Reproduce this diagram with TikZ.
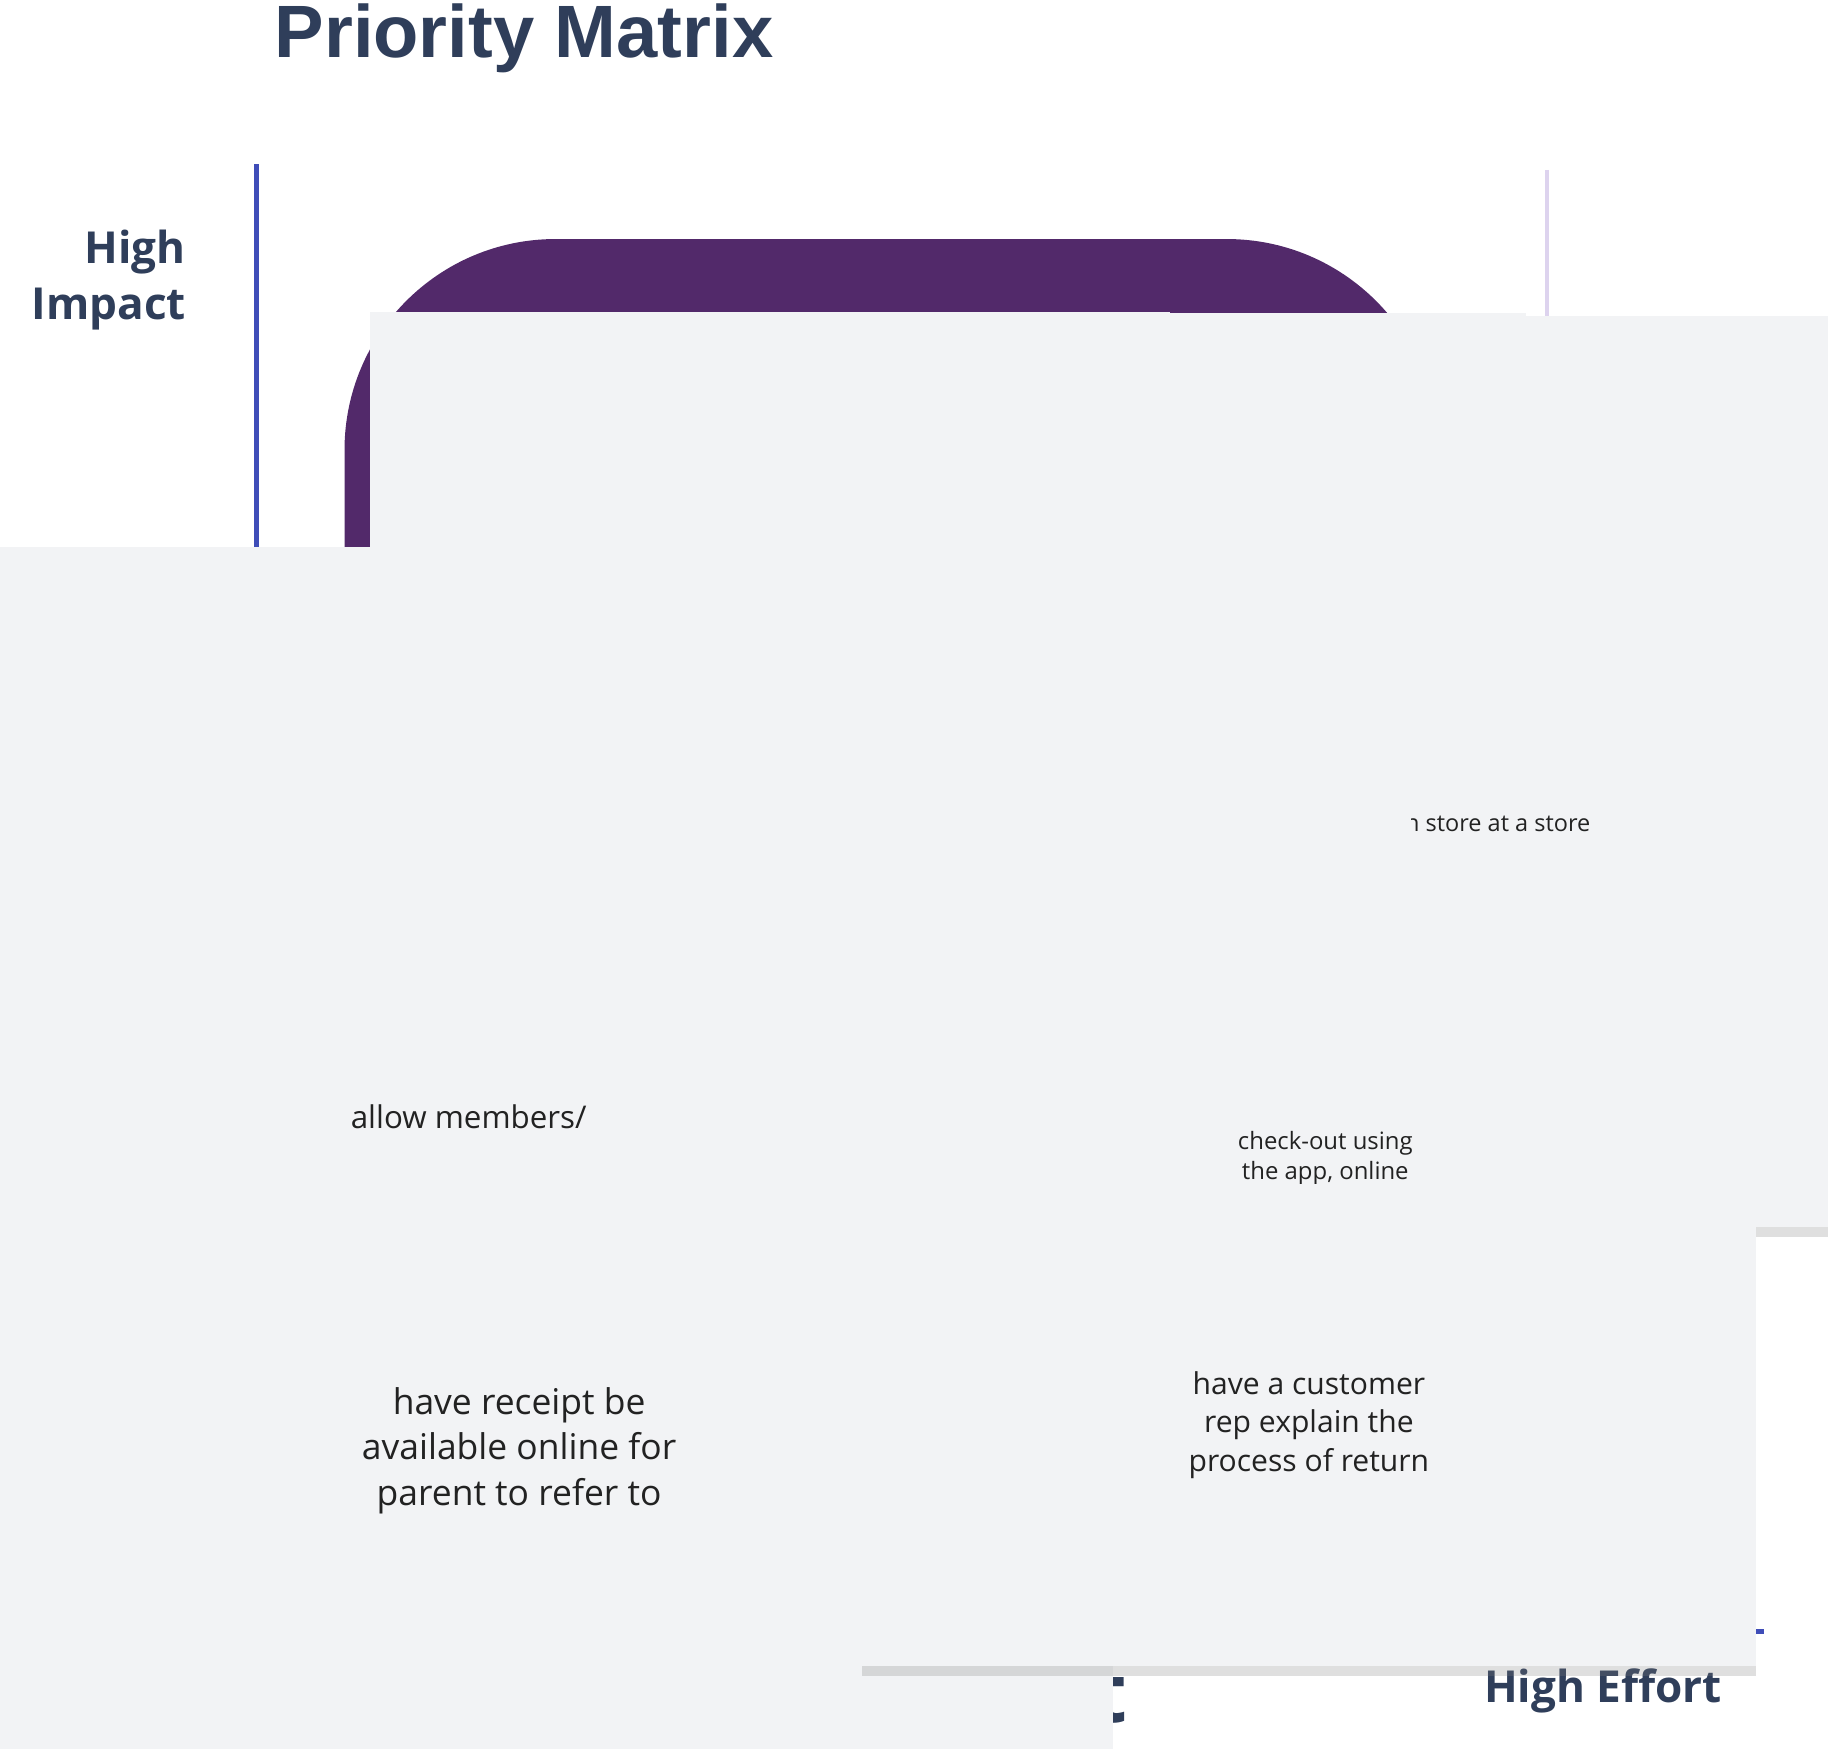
\documentclass[tikz,border=0pt]{standalone}
\usepackage{fontspec}
\setmainfont{Open Sans}
\newfontfamily\titlefont{Liberation Sans}
\usepackage{tikz}
\usetikzlibrary{positioning,shadows}
\definecolor{axisblue}{HTML}{3F4DB8}
\definecolor{gridlilac}{HTML}{DDD3EE}
\definecolor{prioplum}{HTML}{52296A}
\definecolor{labelnavy}{HTML}{2F3E5A}
\definecolor{notegray}{HTML}{F2F3F5}
\definecolor{notetext}{HTML}{222222}
\newcommand{\fsz}[2]{\fontsize{#1pt}{#2pt}\selectfont}

\tikzset{
  stickynote/.style={fill=notegray,align=center,text=notetext,inner sep=0pt,
    drop shadow={shadow xshift=0pt,shadow yshift=-2.5pt,opacity=.25}},
  axislabel/.style={text=labelnavy,font=\bfseries}
}

\begin{document}
\begin{tikzpicture}[x=0.01cm,y=-0.01cm]
  \useasboundingbox (0,0) rectangle (1560,1492);
  % quadrant lines
  \draw[gridlilac,line width=0.9pt] (1320,145) -- (1320,1392);
  \draw[gridlilac,line width=0.9pt] (235,1217) -- (1497,1217);
  % priority area
  \fill[prioplum,rounded corners=1.8cm] (294,204) rectangle (1227,1152);
  \node[anchor=west,text=white,font=\bfseries\fsz{14}{17}] (prio) at (374,328) {Priority 1};
  % axes
  \draw[axisblue,line width=1.2pt] (219,140) -- (219,1392) -- (1505,1392);
  \node[anchor=west,text=labelnavy,font=\titlefont\bfseries\fsz{18}{22}] (title) at (222,33) {Priority Matrix};
  \node[axislabel,anchor=east,align=right,font=\bfseries\fsz{10.7}{13.4}] (hi) at (171,239) {High\\Impact};
  \node[axislabel,anchor=east,align=right,font=\bfseries\fsz{10.7}{13.4}] (lo) at (175,1294) {Low\\Impact};
  \node[axislabel,rotate=90,font=\bfseries\fsz{19}{23}] (imp) at (135,700) {Impact};
  \node[axislabel,font=\bfseries\fsz{10.7}{13}] (le) at (350,1446) {Low Effort};
  \node[axislabel,font=\bfseries\fsz{20}{24}] (eff) at (862,1443) {Effort};
  \node[axislabel,font=\bfseries\fsz{10.7}{13}] (he) at (1368,1443) {High Effort};
  % sticky notes
  \node[stickynote,minimum width=194,minimum height=191,font=\fsz{6.8}{8.6}] (ar) at (657,602)
    {AR to scan\\product and\\see what\\discounts are\\available for it};
  \node[stickynote,minimum width=182,minimum height=176,font=\fsz{5.8}{7.4}] (qrshow) at (982,577)
    {have qr-code in\\store to show\\which discounts\\are applicable\\where};
  \node[stickynote,minimum width=177,minimum height=174,font=\fsz{8.1}{10.4}] (buy) at (1341,576)
    {Buy/\\reserve\\online-pay\\offline};
  \node[stickynote,minimum width=270,minimum height=144,font=\fsz{6.8}{8.6}] (gamify) at (386,720)
    {gamify feedback- post\\pictures on social\\media, have giveaways};
  \node[stickynote,minimum width=314,minimum height=166,font=\fsz{5.7}{7.25}] (qrcart) at (1212,755)
    {have qr-code in store at a store\\and it can identify the clothes/\\products you've added to online\\cart/ wish listed in the store\\+ instore navigation};
  \node[stickynote,minimum width=286,minimum height=149,font=\fsz{9.5}{12.2}] (combined) at (701,892)
    {combined online\\and offline order\\history};
  \node[stickynote,minimum width=300,minimum height=157,font=\fsz{7.6}{9.7}] (allow) at (400,1004)
    {allow members/\\parents to reserve\\clothing before they hit\\the stores};
  \node[stickynote,minimum width=181,minimum height=175,font=\fsz{9}{11.7}] (selfscan) at (896,1092)
    {using self-\\scanners,\\kiosks};
  \node[stickynote,minimum width=179,minimum height=175,font=\fsz{5.8}{7.4}] (checkout) at (1131,1025)
    {check-out using\\the app, online\\payment for\\offline shopping\\as well};
  \node[stickynote,minimum width=288,minimum height=153,font=\fsz{8.6}{11.1}] (receipt) at (443,1238)
    {have receipt be\\available online for\\parent to refer to};
  \node[stickynote,minimum width=217,minimum height=117,font=\fsz{7.3}{9.3}] (rep) at (1117,1216)
    {have a customer\\rep explain the\\process of return};
\end{tikzpicture}
\end{document}
